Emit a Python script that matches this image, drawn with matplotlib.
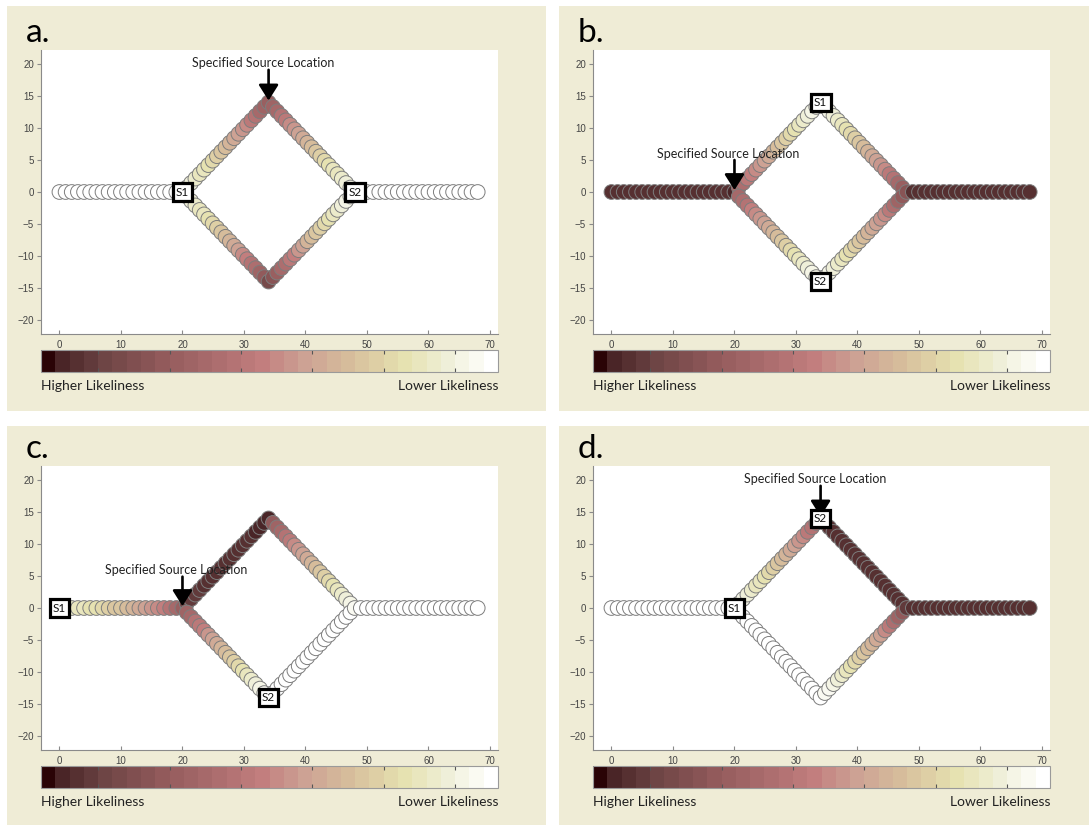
import numpy as np
import matplotlib
matplotlib.use("Agg")
import matplotlib.pyplot as plt
from matplotlib.colors import LinearSegmentedColormap, ListedColormap, Normalize
from matplotlib.cm import ScalarMappable
from matplotlib.patches import Rectangle

plt.rcParams["font.family"] = ["Lato", "DejaVu Sans"]

# -----------------------------
# likeliness level per node (1 = highest, 32 = lowest)
# segments: left line x=0..20, diamond edges, right line x=48..68
# -----------------------------
a_left = [32, 32, 32, 32, 32, 32, 32, 32, 32, 32, 32, 32, 32, 32, 32, 32, 32, 32, 32, 32, 32]
a_up_left = [30, 29, 28, 27, 27, 26, 25, 24, 23, 22, 21, 20, 19, 18, 17, 15, 14, 12, 11, 10]
a_up_right = [11, 12, 14, 15, 17, 18, 19, 20, 21, 22, 23, 24, 25, 26, 27, 27, 28, 29, 30]
a_low_left = [30, 29, 28, 27, 27, 26, 25, 24, 23, 22, 21, 20, 19, 17, 16, 14, 13, 11, 9, 6]
a_low_right = [8, 10, 12, 13, 15, 16, 18, 19, 21, 22, 23, 24, 25, 26, 27, 28, 29, 30, 31]
a_right = [31, 32, 32, 32, 32, 32, 32, 32, 32, 32, 32, 32, 32, 32, 32, 32, 32, 32, 32, 32, 32]

b_left = [3, 3, 3, 3, 3, 3, 3, 3, 3, 3, 3, 3, 3, 3, 3, 3, 3, 3, 3, 3, 2]
b_up_left = [12, 13, 15, 16, 17, 18, 19, 20, 21, 22, 23, 24, 25, 26, 27, 28, 29, 30, 30, 31]
b_up_right = [31, 30, 29, 28, 27, 26, 25, 24, 23, 22, 21, 20, 19, 18, 17, 15, 14, 12, 10]
b_low_left = [12, 13, 14, 16, 17, 18, 19, 20, 21, 22, 23, 24, 25, 26, 27, 28, 29, 30, 30, 31]
b_low_right = [31, 30, 29, 28, 27, 26, 25, 24, 23, 22, 21, 20, 19, 18, 17, 15, 13, 11, 9]
b_right = [8, 3, 3, 3, 3, 3, 3, 3, 3, 3, 3, 3, 3, 3, 3, 3, 3, 3, 3, 3, 3]

c_left = [29, 29, 28, 27, 27, 26, 26, 25, 24, 23, 23, 22, 21, 20, 19, 18, 17, 16, 14, 12, 10]
c_up_left = [5, 4, 4, 4, 3, 3, 3, 3, 3, 3, 3, 3, 3, 3, 3, 3, 2, 2, 2, 2]
c_up_right = [9, 11, 12, 14, 15, 17, 18, 19, 20, 21, 22, 23, 24, 25, 26, 27, 28, 29, 30]
c_low_left = [11, 12, 14, 15, 16, 18, 19, 20, 21, 22, 23, 24, 25, 26, 27, 28, 29, 30, 31, 31]
c_low_right = [32, 32, 32, 32, 32, 32, 32, 32, 32, 32, 32, 32, 32, 32, 32, 32, 32, 32, 32]
c_right = [31, 32, 32, 32, 32, 32, 32, 32, 32, 32, 32, 32, 32, 32, 32, 32, 32, 32, 32, 32, 32]

d_left = [32, 32, 32, 32, 32, 32, 32, 32, 32, 32, 32, 32, 32, 32, 32, 32, 32, 32, 32, 32, 32]
d_up_left = [31, 30, 29, 28, 27, 27, 26, 25, 24, 23, 22, 21, 20, 19, 18, 17, 15, 14, 12, 11]
d_up_right = [3, 3, 3, 3, 3, 3, 3, 3, 3, 3, 3, 3, 3, 3, 3, 3, 3, 3, 3]
d_low_left = [32, 32, 32, 32, 32, 32, 32, 32, 32, 32, 32, 32, 32, 32, 32, 32, 32, 32, 32, 32]
d_low_right = [31, 31, 30, 29, 28, 27, 26, 25, 24, 23, 22, 21, 20, 19, 17, 15, 13, 11, 9]
d_right = [4, 3, 3, 3, 3, 3, 3, 3, 3, 3, 3, 3, 3, 3, 3, 3, 3, 3, 3, 3, 3]

panel_names = ["a.", "b.", "c.", "d."]
source_xy = [(34, 14), (20, 0), (20, 0), (34, 14)]
source_text_xy = [(33.1, 20.1), (19.0, 6.0), (19.0, 5.9), (33.1, 20.1)]
sensor_xy = [
    {"S1": (20, 0), "S2": (48, 0)},
    {"S1": (34, 14), "S2": (34, -14)},
    {"S1": (0, 0), "S2": (34, -14)},
    {"S1": (20, 0), "S2": (34, 14)},
]
x_ticks = [0, 10, 20, 30, 40, 50, 60, 70]
y_ticks = [-20, -15, -10, -5, 0, 5, 10, 15, 20]

panel_values = [
    [a_left, a_up_left, a_up_right, a_low_left, a_low_right, a_right],
    [b_left, b_up_left, b_up_right, b_low_left, b_low_right, b_right],
    [c_left, c_up_left, c_up_right, c_low_left, c_low_right, c_right],
    [d_left, d_up_left, d_up_right, d_low_left, d_low_right, d_right],
]

# -----------------------------
# node positions of the pipe network
# -----------------------------
step = 0.7
t20 = np.arange(1, 21) * step
t19 = np.arange(1, 20) * step
seg_x = [np.arange(0, 21), 20 + t20, 34 + t19, 20 + t20, 34 + t19, np.arange(48, 69)]
seg_y = [np.zeros(21), t20, 14 - t19, -t20, -14 + t19, np.zeros(21)]
node_x = np.concatenate(seg_x)
node_y = np.concatenate(seg_y)

# -----------------------------
# colormap (32 levels, dark -> pink -> tan -> pale yellow -> white)
# -----------------------------
anchors = [
    (0 / 31, "#2a0306"), (1 / 31, "#4b2628"), (4 / 31, "#6e4545"),
    (8 / 31, "#925a5b"), (12 / 31, "#ad6e6f"), (15 / 31, "#c27e7e"),
    (18 / 31, "#cda294"), (21 / 31, "#d6bc9b"), (25 / 31, "#e6e2b0"),
    (28 / 31, "#efefd8"), (31 / 31, "#ffffff"),
]
smooth = LinearSegmentedColormap.from_list("likeliness", anchors)
cmap = ListedColormap(smooth(np.linspace(0, 1, 32)))
norm = Normalize(vmin=0.5, vmax=32.5)

W, H = 1092, 827
fig = plt.figure(figsize=(W / 100, H / 100), dpi=100, facecolor="white")


def fig_rect(x0, y0, x1, y1):
    return [x0 / W, 1 - y1 / H, (x1 - x0) / W, (y1 - y0) / H]


panel_px = [(7, 6, 546, 411), (559, 6, 1089, 411), (7, 426, 546, 825), (559, 426, 1089, 825)]
offsets = [(0, 0), (552, 0), (0, 416), (552, 416)]
bg = "#efecd6"
grey = "#8a8a8a"

for k in range(4):
    px0, py0, px1, py1 = panel_px[k]
    fig.patches.append(Rectangle((px0 / W, 1 - py1 / H), (px1 - px0) / W, (py1 - py0) / H,
                                 transform=fig.transFigure, facecolor=bg, edgecolor="none",
                                 zorder=-5))
    ox, oy = offsets[k]

    ax = fig.add_axes(fig_rect(41 + ox, 50 + oy, 498 + ox, 334 + oy))
    ax.set_facecolor("white")
    ax.set_xlim(-3, 71.3)
    ax.set_ylim(-22.2, 22.2)

    values = np.concatenate(panel_values[k])
    ax.scatter(node_x, node_y, c=values, cmap=cmap, norm=norm, s=112,
               edgecolors="#7d7d7d", linewidths=0.7, zorder=2)

    # source arrow and label
    sx, sy = source_xy[k]
    tx, ty = source_text_xy[k]
    ax.annotate("", xy=(sx, sy + 0.3), xytext=(sx, ty - 1.0),
                arrowprops=dict(arrowstyle="-|>,head_length=0.95,head_width=0.6",
                                color="black", lw=1.9, shrinkA=0, shrinkB=0),
                zorder=4)
    ax.text(tx, ty, "Specified Source Location", ha="center", va="center",
            fontsize=9, color="#222222", zorder=4)

    # sensor boxes
    for name, (bx, by) in sensor_xy[k].items():
        ax.text(bx, by, name, ha="center", va="center", fontsize=8.5, color="#111111",
                zorder=6, bbox=dict(boxstyle="square,pad=0.28", facecolor="white",
                                    edgecolor="black", linewidth=2.3))

    for side in ["top", "right"]:
        ax.spines[side].set_visible(False)
    for side in ["left", "bottom"]:
        ax.spines[side].set_color(grey)
        ax.spines[side].set_linewidth(0.8)
    ax.set_xticks(x_ticks)
    ax.set_yticks(y_ticks)
    ax.tick_params(axis="x", direction="in", length=3, color=grey, pad=4,
                   labelsize=7, labelcolor="#444444")
    ax.tick_params(axis="y", direction="out", length=3, color=grey, pad=2,
                   labelsize=7, labelcolor="#444444")
    for lab in ax.get_xticklabels() + ax.get_yticklabels():
        lab.set_family(["Liberation Sans", "DejaVu Sans"])

    # colour scale
    cax = fig.add_axes(fig_rect(41 + ox, 350 + oy, 498 + ox, 372 + oy))
    cb = fig.colorbar(ScalarMappable(norm=norm, cmap=cmap), cax=cax, orientation="horizontal")
    cb.outline.set_edgecolor("#9a9a9a")
    cb.outline.set_linewidth(0.8)
    cax.set_xticks([4.5, 9.5, 14.5, 19.5, 24.5, 29.5])
    cax.tick_params(axis="x", direction="in", top=True, bottom=True, length=3,
                    color="#555555", labelbottom=False)

    fig.text((41 + ox) / W, 1 - (386 + oy) / H, "Higher Likeliness", ha="left", va="center",
             fontsize=10, color="#222222")
    fig.text((498 + ox) / W, 1 - (386 + oy) / H, "Lower Likeliness", ha="right", va="center",
             fontsize=10, color="#222222")
    fig.text((26 + ox) / W, 1 - (42 + oy) / H, panel_names[k], ha="left", va="baseline",
             fontsize=24, color="black")

fig.savefig("out.png", dpi=100, facecolor="white")
